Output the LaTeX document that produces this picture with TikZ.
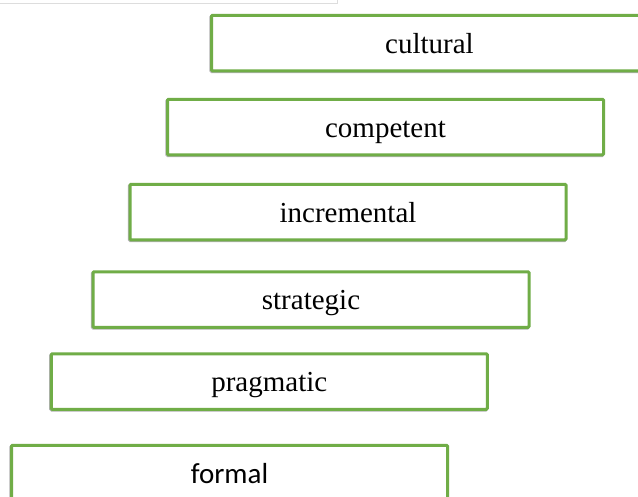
\documentclass[tikz,border=0pt]{standalone}
\usepackage{fontspec}
\newfontfamily\timesfont{Liberation Serif}
\newfontfamily\carlitofont{Carlito}
\definecolor{boxgreen}{HTML}{70AD47}
\definecolor{framegray}{HTML}{DDDDDD}
\begin{document}
\begin{tikzpicture}[x=1pt,y=1pt,
  stair/.style={draw=boxgreen, line width=3pt, rounded corners=1pt, fill=white,
    minimum width=436pt, minimum height=55.5pt, inner sep=0pt,
    font=\timesfont\fontsize{29}{31}\selectfont, text height=20pt, text depth=0pt},
  shade/.style={draw=black!30, line width=3pt, rounded corners=1pt,
    minimum width=436pt, minimum height=55.5pt, inner sep=0pt}]
\clip (0,0) rectangle (638,-496);
\fill[white] (0,0) rectangle (638,-496);
\coordinate (fa) at (0,-3.5);
\coordinate (fb) at (337,-3.5);
\coordinate (fc) at (337,0);
\draw[framegray, line width=1pt] (fa) -- (fb) -- (fc);
% shadows
\foreach \x/\y in {429.5/43, 385.5/127, 348/212, 311/299.5, 269.3/381.5, 229.5/473}
  \node[shade] at (\x-0.6,-\y-0.8) {};
\node[stair] (cultural) at (429.5,-43) {cultural};
\node[stair] (competent) at (385.5,-127) {competent};
\node[stair] (incremental) at (348,-212) {incremental};
\node[stair] (strategic) at (311,-299.5) {strategic};
\node[stair] (pragmatic) at (269.3,-381.5) {pragmatic};
\node[stair, font=\carlitofont\fontsize{29}{31}\selectfont] (formal) at (229.5,-473) {formal};
\end{tikzpicture}
\end{document}
